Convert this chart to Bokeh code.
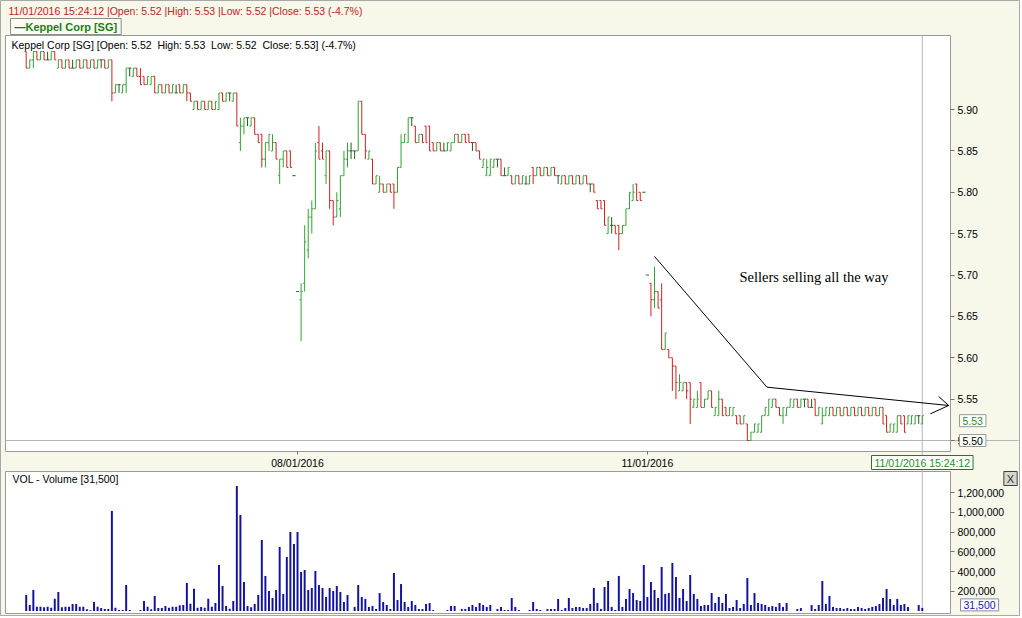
from bokeh.plotting import figure
from bokeh.models import (ColumnDataSource, FixedTicker, Label, LinearAxis,
                          NumeralTickFormatter, Range1d)
from bokeh.embed import file_html
from bokeh.resources import INLINE

# ---------------- data (5-minute bars, Keppel Corp [SG]) ----------------
open_ = [
    5.97, 5.95, 5.96, 5.97, 5.96, 5.97, 5.96, 5.96, 5.97, 5.95,
    5.96, 5.95, 5.96, 5.95, 5.95, 5.96, 5.95, 5.96, 5.95, 5.96,
    5.95, 5.96, 5.96, 5.95, 5.96, 5.92, 5.93, 5.92, 5.93, 5.95,
    5.94, 5.95, 5.94, 5.94, 5.93, 5.93, 5.94, 5.92, 5.93, 5.92,
    5.93, 5.92, 5.92, 5.93, 5.92, 5.93, 5.92, 5.90, 5.91, 5.90,
    5.91, 5.90, 5.91, 5.90, 5.90, 5.92, 5.91, 5.92, 5.91, 5.92,
    5.86, 5.88, 5.89, 5.88, 5.89, 5.87, 5.87, 5.84, 5.86, 5.85,
    5.86, 5.82, 5.84, 5.85, 5.85, 5.82,
    5.68, 5.67, 5.69, 5.73, 5.77, 5.78, 5.86, 5.85, 5.82, 5.85,
    5.79, 5.77, 5.78, 5.82, 5.84, 5.85, 5.85, 5.85, 5.91, 5.87,
    5.84, 5.84, 5.81, 5.80, 5.81, 5.80, 5.81, 5.81, 5.80, 5.83,
    5.86, 5.86, 5.89, 5.88, 5.86, 5.87, 5.88, 5.88, 5.86, 5.85,
    5.86, 5.85, 5.85, 5.85, 5.86, 5.87, 5.86, 5.87, 5.87, 5.86,
    5.86, 5.85, 5.83, 5.82, 5.82, 5.83, 5.84, 5.84, 5.82, 5.82,
    5.82, 5.81, 5.82, 5.81, 5.81, 5.81, 5.83, 5.82, 5.83, 5.82,
    5.83, 5.82, 5.83, 5.82, 5.81, 5.82, 5.81, 5.82, 5.81, 5.82,
    5.81, 5.82, 5.81, 5.81, 5.79, 5.79, 5.79, 5.75, 5.76, 5.76,
    5.76, 5.75, 5.76, 5.78, 5.79, 5.81, 5.80, 5.80,
    5.70, 5.69, 5.67, 5.68, 5.67, 5.61, 5.61, 5.60, 5.59, 5.56,
    5.56, 5.57, 5.57, 5.54, 5.54, 5.57, 5.54, 5.55, 5.56, 5.53,
    5.53, 5.55, 5.54, 5.53, 5.53, 5.53, 5.53, 5.52, 5.52, 5.50,
    5.51, 5.51, 5.51, 5.53, 5.53, 5.54, 5.55, 5.54, 5.53, 5.53,
    5.54, 5.54, 5.55, 5.54, 5.55, 5.55, 5.54, 5.55, 5.53, 5.52,
    5.53, 5.53, 5.54, 5.53, 5.54, 5.53, 5.54, 5.53, 5.54, 5.53,
    5.54, 5.53, 5.54, 5.53, 5.54, 5.53, 5.54, 5.53, 5.51, 5.51,
    5.51, 5.53, 5.53, 5.52, 5.52, 5.52, 5.53, 5.52,
]
high = [
    5.97, 5.96, 5.97, 5.97, 5.97, 5.97, 5.97, 5.97, 5.97, 5.96,
    5.96, 5.96, 5.96, 5.96, 5.96, 5.96, 5.96, 5.96, 5.96, 5.96,
    5.96, 5.96, 5.96, 5.96, 5.96, 5.93, 5.93, 5.93, 5.95, 5.95,
    5.95, 5.95, 5.95, 5.94, 5.94, 5.94, 5.94, 5.93, 5.93, 5.93,
    5.93, 5.93, 5.93, 5.93, 5.93, 5.93, 5.92, 5.91, 5.91, 5.91,
    5.91, 5.91, 5.91, 5.91, 5.92, 5.92, 5.92, 5.92, 5.92, 5.92,
    5.89, 5.89, 5.89, 5.89, 5.89, 5.87, 5.87, 5.86, 5.87, 5.87,
    5.86, 5.84, 5.85, 5.85, 5.85, 5.82,
    5.68, 5.69, 5.76, 5.78, 5.79, 5.86, 5.88, 5.86, 5.85, 5.85,
    5.79, 5.80, 5.82, 5.85, 5.86, 5.86, 5.85, 5.91, 5.91, 5.87,
    5.85, 5.84, 5.82, 5.82, 5.81, 5.81, 5.81, 5.81, 5.83, 5.87,
    5.87, 5.89, 5.89, 5.88, 5.87, 5.87, 5.88, 5.88, 5.86, 5.86,
    5.86, 5.86, 5.86, 5.86, 5.87, 5.87, 5.87, 5.87, 5.87, 5.86,
    5.86, 5.85, 5.84, 5.84, 5.84, 5.84, 5.84, 5.84, 5.83, 5.83,
    5.82, 5.82, 5.82, 5.82, 5.82, 5.82, 5.83, 5.83, 5.83, 5.83,
    5.83, 5.83, 5.83, 5.82, 5.82, 5.82, 5.82, 5.82, 5.82, 5.82,
    5.82, 5.82, 5.81, 5.81, 5.79, 5.79, 5.79, 5.77, 5.77, 5.76,
    5.76, 5.76, 5.78, 5.80, 5.81, 5.81, 5.80, 5.80,
    5.70, 5.69, 5.71, 5.68, 5.69, 5.63, 5.61, 5.60, 5.59, 5.58,
    5.57, 5.57, 5.57, 5.55, 5.56, 5.57, 5.55, 5.56, 5.56, 5.54,
    5.56, 5.55, 5.54, 5.54, 5.54, 5.53, 5.53, 5.53, 5.52, 5.51,
    5.52, 5.52, 5.53, 5.54, 5.55, 5.55, 5.55, 5.54, 5.54, 5.54,
    5.55, 5.55, 5.55, 5.55, 5.55, 5.55, 5.55, 5.55, 5.54, 5.54,
    5.54, 5.54, 5.54, 5.54, 5.54, 5.54, 5.54, 5.54, 5.54, 5.54,
    5.54, 5.54, 5.54, 5.54, 5.54, 5.54, 5.54, 5.53, 5.52, 5.52,
    5.53, 5.53, 5.53, 5.53, 5.53, 5.53, 5.53, 5.53,
]
low = [
    5.95, 5.95, 5.95, 5.96, 5.96, 5.96, 5.96, 5.96, 5.96, 5.95,
    5.95, 5.95, 5.95, 5.95, 5.95, 5.95, 5.95, 5.95, 5.95, 5.95,
    5.95, 5.95, 5.95, 5.95, 5.91, 5.92, 5.92, 5.92, 5.92, 5.94,
    5.94, 5.94, 5.93, 5.93, 5.93, 5.93, 5.92, 5.92, 5.92, 5.92,
    5.92, 5.92, 5.92, 5.92, 5.92, 5.91, 5.91, 5.90, 5.90, 5.90,
    5.90, 5.90, 5.90, 5.90, 5.90, 5.91, 5.91, 5.91, 5.91, 5.88,
    5.85, 5.87, 5.88, 5.88, 5.87, 5.86, 5.83, 5.83, 5.85, 5.85,
    5.84, 5.81, 5.83, 5.83, 5.83, 5.82,
    5.68, 5.62, 5.68, 5.72, 5.75, 5.78, 5.84, 5.84, 5.81, 5.78,
    5.76, 5.77, 5.77, 5.82, 5.83, 5.84, 5.84, 5.85, 5.87, 5.84,
    5.84, 5.81, 5.81, 5.80, 5.80, 5.80, 5.80, 5.78, 5.80, 5.83,
    5.86, 5.86, 5.88, 5.86, 5.86, 5.86, 5.86, 5.85, 5.85, 5.85,
    5.85, 5.85, 5.85, 5.85, 5.86, 5.86, 5.86, 5.86, 5.86, 5.85,
    5.85, 5.84, 5.83, 5.82, 5.82, 5.83, 5.83, 5.82, 5.82, 5.82,
    5.81, 5.81, 5.81, 5.81, 5.81, 5.81, 5.81, 5.82, 5.82, 5.82,
    5.82, 5.82, 5.82, 5.81, 5.81, 5.81, 5.81, 5.81, 5.81, 5.81,
    5.81, 5.81, 5.80, 5.80, 5.78, 5.78, 5.76, 5.75, 5.75, 5.75,
    5.73, 5.75, 5.76, 5.78, 5.79, 5.79, 5.79, 5.80,
    5.70, 5.65, 5.66, 5.66, 5.61, 5.61, 5.60, 5.56, 5.55, 5.56,
    5.56, 5.55, 5.52, 5.54, 5.54, 5.54, 5.54, 5.55, 5.54, 5.53,
    5.53, 5.53, 5.53, 5.53, 5.53, 5.52, 5.52, 5.52, 5.50, 5.50,
    5.51, 5.51, 5.51, 5.53, 5.53, 5.54, 5.54, 5.53, 5.52, 5.53,
    5.54, 5.54, 5.54, 5.54, 5.54, 5.54, 5.54, 5.53, 5.53, 5.52,
    5.53, 5.53, 5.53, 5.53, 5.53, 5.53, 5.53, 5.53, 5.53, 5.53,
    5.53, 5.53, 5.53, 5.53, 5.53, 5.53, 5.52, 5.51, 5.51, 5.51,
    5.51, 5.52, 5.51, 5.52, 5.52, 5.52, 5.52, 5.52,
]
close = [
    5.95, 5.96, 5.97, 5.96, 5.97, 5.96, 5.96, 5.97, 5.96, 5.96,
    5.95, 5.96, 5.95, 5.95, 5.96, 5.95, 5.96, 5.95, 5.96, 5.95,
    5.96, 5.96, 5.95, 5.96, 5.92, 5.93, 5.93, 5.93, 5.95, 5.95,
    5.95, 5.94, 5.93, 5.93, 5.94, 5.94, 5.92, 5.93, 5.92, 5.93,
    5.92, 5.93, 5.92, 5.92, 5.93, 5.92, 5.91, 5.91, 5.90, 5.91,
    5.90, 5.91, 5.90, 5.91, 5.92, 5.91, 5.92, 5.92, 5.92, 5.88,
    5.88, 5.89, 5.89, 5.89, 5.87, 5.86, 5.84, 5.86, 5.87, 5.86,
    5.84, 5.84, 5.85, 5.83, 5.83, 5.82,
    5.68, 5.68, 5.74, 5.77, 5.78, 5.85, 5.84, 5.84, 5.85, 5.79,
    5.77, 5.79, 5.82, 5.84, 5.85, 5.85, 5.85, 5.91, 5.87, 5.85,
    5.85, 5.81, 5.82, 5.81, 5.80, 5.81, 5.80, 5.80, 5.83, 5.86,
    5.87, 5.89, 5.89, 5.86, 5.87, 5.86, 5.86, 5.85, 5.85, 5.86,
    5.85, 5.85, 5.86, 5.86, 5.87, 5.86, 5.87, 5.86, 5.86, 5.86,
    5.85, 5.84, 5.84, 5.83, 5.84, 5.84, 5.84, 5.82, 5.82, 5.83,
    5.81, 5.82, 5.81, 5.82, 5.81, 5.82, 5.82, 5.83, 5.82, 5.83,
    5.82, 5.83, 5.82, 5.82, 5.82, 5.81, 5.82, 5.81, 5.82, 5.81,
    5.82, 5.81, 5.81, 5.80, 5.78, 5.78, 5.76, 5.77, 5.76, 5.75,
    5.75, 5.76, 5.78, 5.80, 5.80, 5.79, 5.79, 5.80,
    5.70, 5.67, 5.68, 5.66, 5.61, 5.63, 5.60, 5.59, 5.57, 5.57,
    5.57, 5.56, 5.55, 5.55, 5.55, 5.54, 5.55, 5.56, 5.54, 5.54,
    5.55, 5.53, 5.53, 5.54, 5.54, 5.52, 5.52, 5.53, 5.50, 5.51,
    5.52, 5.52, 5.53, 5.54, 5.55, 5.55, 5.54, 5.53, 5.54, 5.54,
    5.55, 5.55, 5.54, 5.55, 5.55, 5.54, 5.54, 5.53, 5.54, 5.53,
    5.54, 5.54, 5.53, 5.54, 5.53, 5.54, 5.53, 5.54, 5.53, 5.54,
    5.53, 5.54, 5.53, 5.54, 5.53, 5.54, 5.52, 5.51, 5.52, 5.52,
    5.53, 5.52, 5.51, 5.53, 5.53, 5.53, 5.53, 5.53,
]
volume = [
    162000, 61000, 213000, 44000, 44000, 37000, 44000, 34000, 125000, 193000,
    37000, 44000, 44000, 71000, 71000, 44000, 44000, 17000, 7000, 91000,
    44000, 30000, 20000, 20000, 1013000, 34000, 10000, 10000, 263000, 10000,
    0, 0, 10000, 101000, 44000, 17000, 152000, 30000, 30000, 51000,
    34000, 44000, 44000, 57000, 61000, 283000, 74000, 226000, 34000, 41000,
    34000, 125000, 44000, 81000, 466000, 253000, 51000, 24000, 101000, 1266000,
    972000, 294000, 51000, 37000, 71000, 162000, 719000, 355000, 203000, 132000,
    213000, 648000, 172000, 547000, 800000, 679000,
    800000, 395000, 415000, 213000, 233000, 405000, 263000, 233000, 142000, 233000,
    203000, 253000, 193000, 91000, 162000, 0, 41000, 263000, 142000, 122000,
    41000, 51000, 20000, 182000, 91000, 61000, 20000, 385000, 111000, 273000,
    91000, 41000, 101000, 61000, 20000, 20000, 71000, 81000, 10000, 0,
    0, 0, 10000, 51000, 51000, 0, 20000, 20000, 41000, 61000,
    41000, 81000, 61000, 41000, 61000, 0, 20000, 41000, 10000, 10000,
    132000, 41000, 10000, 0, 0, 10000, 91000, 20000, 10000, 0,
    20000, 20000, 20000, 122000, 10000, 30000, 132000, 30000, 41000, 41000,
    30000, 30000, 71000, 233000, 81000, 20000, 243000, 304000, 41000, 10000,
    355000, 41000, 122000, 223000, 182000, 111000, 101000, 466000,
    142000, 294000, 213000, 132000, 446000, 172000, 182000, 486000, 344000, 132000,
    223000, 101000, 365000, 172000, 122000, 51000, 61000, 61000, 182000, 81000,
    142000, 81000, 172000, 30000, 41000, 111000, 30000, 71000, 334000, 61000,
    182000, 81000, 71000, 61000, 41000, 51000, 41000, 81000, 41000, 81000,
    0, 0, 20000, 30000, 0, 0, 61000, 20000, 61000, 304000,
    71000, 152000, 41000, 30000, 30000, 20000, 30000, 20000, 20000, 41000,
    30000, 20000, 30000, 41000, 51000, 71000, 132000, 223000, 122000, 61000,
    122000, 61000, 71000, 41000, 0, 0, 61000, 31500,
]
day_ticks = [76, 174]
day_labels = ["08/01/2016", "11/01/2016"]
prev_close_index = 173
price_ticks = [5.50, 5.55, 5.60, 5.65, 5.70, 5.75, 5.80, 5.85, 5.90]
volume_ticks = [200000, 400000, 600000, 800000, 1000000, 1200000]
last_time = "11/01/2016 15:24:12"
cursor_price = 5.50
# hand-drawn annotation (bar index, price)
trend_x = [176.0, 207.5, 258.4]
trend_y = [5.7224, 5.5644, 5.5423]
arrow_x = [[253.3, 258.4], [255.6, 258.4]]
arrow_y = [[5.5323, 5.5423], [5.5532, 5.5423]]
note_text = "Sellers selling all the way"
note_x, note_y = 199.8, 5.697

n = len(close)
assert len(open_) == n and len(high) == n and len(low) == n and len(volume) == n

# ---------------- page geometry (pixels) ----------------
W, H = 1020, 616
X0, DX = 25.7, 3.57            # pixel of bar 0, pixels per bar
PY0, P0, PPU = 109.0, 5.90, 827.5   # price 5.90 at y=109, px per 1.00
VY0, VPU = 610.5, 98.75e-6     # volume zero at y=610.5, px per share
PANEL_L, PANEL_R = 5, 950
PRICE_T, PRICE_B = 35, 451
VOL_T, VOL_B = 471, 613


def xi(px):
    return (px - X0) / DX


def yp(py):
    return P0 - (py - PY0) / PPU


def yv(py):
    return (VY0 - py) / VPU


def sy(py):  # screen-unit y (measured from bottom of canvas)
    return H - py


# ---------------- styling ----------------
BG = "#f7f7ea"
UP = "#34a234"
DOWN = "#cc2222"
FLAT = "#1f5f1f"
VOLC = "#1212a0"
FONT = "Liberation Sans"
FS = "10.5px"
GRAY = "#9a9a9a"
PAD = (3, 2)

idx = list(range(n))
bar_col = [UP if c > o else (DOWN if c < o else FLAT) for o, c in zip(open_, close)]
src = ColumnDataSource(dict(
    x=idx, xl=[i - 0.45 for i in idx], xr=[i + 0.45 for i in idx],
    o=open_, h=high, l=low, c=close, col=bar_col, v=volume,
))

pct = (close[-1] / close[prev_close_index] - 1) * 100
header = (f"{last_time} |Open: {open_[-1]:.2f} |High: {high[-1]:.2f} "
          f"|Low: {low[-1]:.2f} |Close: {close[-1]:.2f} ({pct:.1f}%)")
SP2 = " \u00a0"
inner = (f"Keppel Corp [SG] [Open: {open_[-1]:.2f}{SP2}High: {high[-1]:.2f}{SP2}"
         f"Low: {low[-1]:.2f}{SP2}Close: {close[-1]:.2f}] ({pct:.1f}%)")

p = figure(width=W, height=H, min_border=0,
           x_range=Range1d(xi(0), xi(W)), y_range=Range1d(yp(H), yp(0)),
           x_axis_location=None, y_axis_location=None, title=None,
           toolbar_location=None, output_backend="svg",
           background_fill_color=BG, border_fill_color=BG,
           outline_line_color="#a8a8a8")
p.extra_y_ranges = {"vol": Range1d(yv(H), yv(0))}
p.grid.visible = False

# panels
p.quad(left=xi(PANEL_L), right=xi(PANEL_R), top=yp(PRICE_T), bottom=yp(PRICE_B),
       fill_color="white", line_color=GRAY, line_width=1)
p.quad(left=xi(PANEL_L), right=xi(PANEL_R), top=yv(VOL_T), bottom=yv(VOL_B),
       fill_color="white", line_color=GRAY, line_width=1, y_range_name="vol")

# cross-hair
p.segment(x0=idx[-1], y0=yp(PRICE_T), x1=idx[-1], y1=yp(VOL_B),
          line_color="#b4b4b4", line_width=1)
p.segment(x0=xi(PANEL_L), y0=cursor_price, x1=xi(1018), y1=cursor_price,
          line_color="#b4b4b4", line_width=1)

# OHLC bars
p.segment(x0="x", y0="l", x1="x", y1="h", line_color="col", line_width=1, source=src)
p.segment(x0="xl", y0="o", x1="x", y1="o", line_color="col", line_width=1, source=src)
p.segment(x0="x", y0="c", x1="xr", y1="c", line_color="col", line_width=1, source=src)

# volume bars
p.vbar(x="x", top="v", bottom=0, width=0.55, fill_color=VOLC, line_color=None,
       source=src, y_range_name="vol")

# trend annotation
p.line(trend_x, trend_y, line_color="black", line_width=1)
p.multi_line(arrow_x, arrow_y, line_color="black", line_width=1)


def style_axis(ax):
    ax.axis_line_color = None
    ax.major_tick_in = 0
    ax.major_tick_line_color = "#707070"
    ax.minor_tick_line_color = None
    ax.major_label_text_font = FONT
    ax.major_label_text_font_size = FS
    ax.major_label_text_color = "black"


ya = LinearAxis(fixed_location=xi(PANEL_R), ticker=FixedTicker(ticks=price_ticks),
                formatter=NumeralTickFormatter(format="0.00"))
style_axis(ya)
ya.major_tick_out = 4
ya.major_label_standoff = 3
p.add_layout(ya, "right")

va = LinearAxis(y_range_name="vol", fixed_location=xi(PANEL_R),
                ticker=FixedTicker(ticks=volume_ticks),
                formatter=NumeralTickFormatter(format="0,0"))
style_axis(va)
va.major_tick_out = 4
va.major_label_standoff = 3
p.add_layout(va, "right")

xa = LinearAxis(fixed_location=yp(PRICE_B), ticker=FixedTicker(ticks=day_ticks))
xa.major_label_overrides = {t: s for t, s in zip(day_ticks, day_labels)}
style_axis(xa)
xa.major_tick_out = 3
xa.major_label_standoff = 2
p.add_layout(xa, "below")

# texts
p.add_layout(Label(x=8, y=sy(4), x_units="screen", y_units="screen", text=header,
                   text_baseline="top", text_color="#c02424", text_font=FONT,
                   text_font_size=FS))
p.add_layout(Label(x=10, y=sy(26), x_units="screen", y_units="screen",
                   text="\u2014Keppel Corp [SG]", text_baseline="middle",
                   text_color="#1b7d1b", text_font=FONT, text_font_size="11px",
                   text_font_style="bold", border_line_color="#8c8c8c",
                   background_fill_color="#fbfbf2", padding=(4, 2)))
p.add_layout(Label(x=11, y=sy(38), x_units="screen", y_units="screen", text=inner,
                   text_baseline="top", text_color="black", text_font=FONT,
                   text_font_size=FS))
p.add_layout(Label(x=note_x, y=note_y, text=note_text, text_baseline="middle",
                   text_color="black", text_font="Liberation Serif",
                   text_font_size="14.5px"))
p.add_layout(Label(x=959, x_units="screen", y=close[-1], y_offset=-5,
                   text=f"{close[-1]:.2f}", text_baseline="middle",
                   text_color="#2a8a2a", text_font=FONT, text_font_size=FS,
                   border_line_color=GRAY, background_fill_color="white",
                   padding=PAD))
p.add_layout(Label(x=959, x_units="screen", y=cursor_price,
                   text=f"{cursor_price:.2f}", text_baseline="middle",
                   text_color="black", text_font=FONT, text_font_size=FS,
                   border_line_color=GRAY, background_fill_color="white",
                   padding=PAD))
p.add_layout(Label(x=idx[-1], y=sy(462), y_units="screen", text=last_time,
                   text_align="center", text_baseline="middle",
                   text_color="#2a8a2a", text_font=FONT, text_font_size=FS,
                   border_line_color="#2f6f2f", background_fill_color="white",
                   padding=(3, 1)))
p.add_layout(Label(x=12, y=sy(472), x_units="screen", y_units="screen",
                   text=f"VOL - Volume [{volume[-1]:,}]", text_baseline="top",
                   text_color="black", text_font=FONT, text_font_size=FS))
p.add_layout(Label(x=960, x_units="screen", y=volume[-1], y_range_name="vol",
                   y_offset=3, text=f"{volume[-1]:,}", text_baseline="middle",
                   text_color="#1a1ab0", text_font=FONT, text_font_size=FS,
                   border_line_color="#8a8aa8", background_fill_color="white",
                   padding=PAD))
p.add_layout(Label(x=1010, y=sy(478), x_units="screen", y_units="screen",
                   text="X", text_align="center", text_baseline="middle",
                   text_color="#303030", text_font=FONT, text_font_size="11px",
                   border_line_color="#404040", background_fill_color="#d6d6cc",
                   padding=(3, 1)))

open("out.html", "w").write(file_html(p, INLINE))
